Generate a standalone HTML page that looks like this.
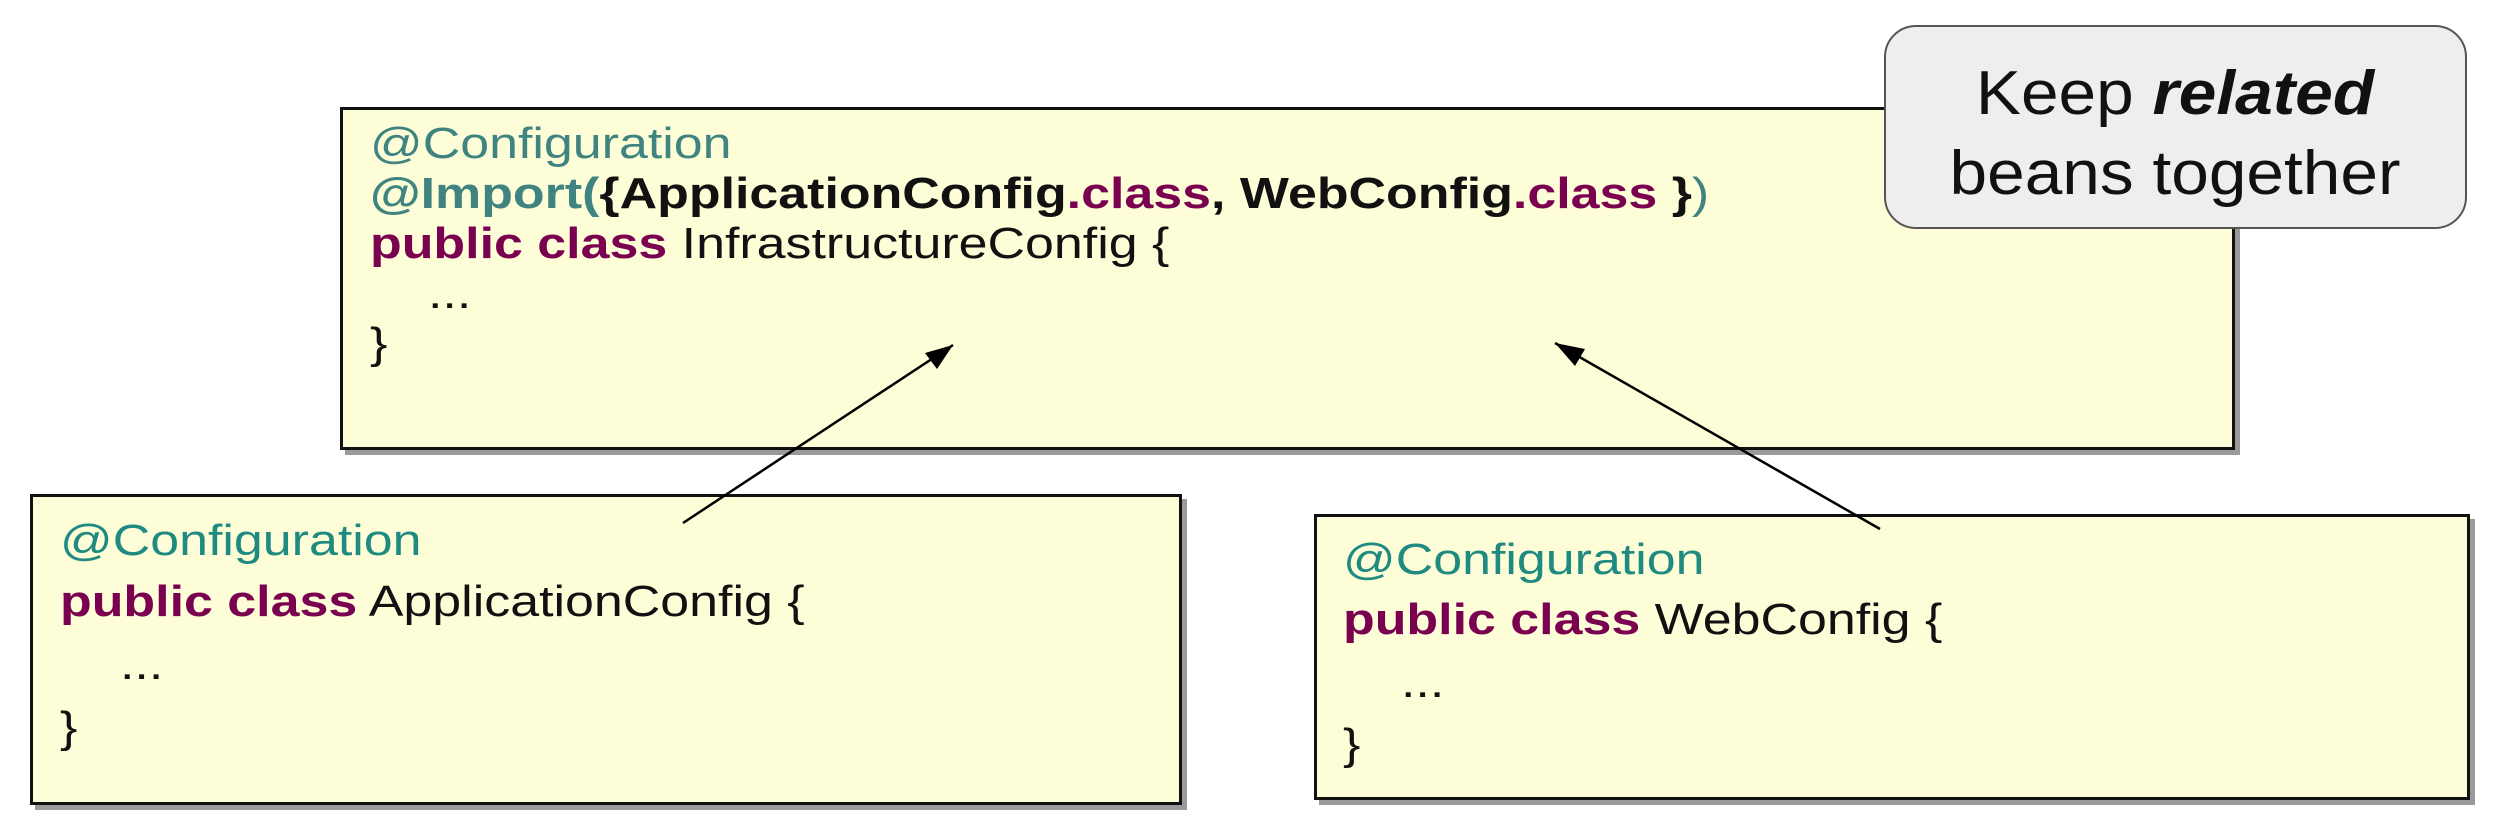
<!DOCTYPE html>
<html><head><meta charset="utf-8"><style>
body{margin:0;width:2494px;height:826px;background:#fff;position:relative;overflow:hidden;font-family:"Liberation Sans",Arial,sans-serif}
.box{position:absolute;background:#fdfdd8;border:3px solid #111;box-shadow:5px 5px 0 #9a9a9a;box-sizing:border-box}
.l{position:absolute;font-size:44px;line-height:44px;white-space:pre;transform:scaleX(1.18);transform-origin:0 0;color:#111}
.t{color:#3f8480}.t2{color:#1f8a80}.p{color:#7a0050;font-weight:bold}.b{font-weight:bold}
.call{position:absolute;left:1884px;top:25px;width:583px;height:204px;background:#eeeeee;border:2px solid #555;border-radius:32px;box-sizing:border-box}
.c{position:absolute;font-size:62px;line-height:62px;white-space:pre;color:#111;transform:scaleX(1.09);transform-origin:50% 0;width:600px;text-align:center;left:1875px}
</style></head><body>
<div class="box" style="left:340px;top:107px;width:1895px;height:343px"></div>
<div class="box" style="left:30px;top:494px;width:1152px;height:311px"></div>
<div class="box" style="left:1314px;top:514px;width:1156px;height:286px"></div>

<div class="l t" style="left:370px;top:122px">@Configuration</div>
<div class="l" style="left:370px;top:172px"><span class="t b">@Import(</span><span class="b">{ApplicationConfig</span><span class="p">.class</span><span class="b">, WebConfig</span><span class="p">.class</span><span class="b"> }</span><span class="t">)</span></div>
<div class="l" style="left:370px;top:222px"><span class="p">public class</span> InfrastructureConfig {</div>
<div class="l" style="left:428px;top:272px">...</div>
<div class="l" style="left:370px;top:322px">}</div>

<div class="l t2" style="left:60px;top:519px">@Configuration</div>
<div class="l" style="left:60px;top:580px"><span class="p">public class</span> ApplicationConfig {</div>
<div class="l" style="left:120px;top:643px">...</div>
<div class="l" style="left:60px;top:706px">}</div>

<div class="l t2" style="left:1343px;top:538px">@Configuration</div>
<div class="l" style="left:1343px;top:598px"><span class="p">public class</span> WebConfig {</div>
<div class="l" style="left:1401px;top:661px">...</div>
<div class="l" style="left:1343px;top:723px">}</div>

<svg width="2494" height="826" style="position:absolute;left:0;top:0">
<defs><marker id="a" markerWidth="12" markerHeight="10" refX="11" refY="5" orient="auto" markerUnits="userSpaceOnUse" viewBox="0 0 12 10"><path d="M0,0 L12,5 L0,10 z" fill="#000"/></marker></defs>
<g stroke="#000" stroke-width="2.5" fill="none">
<line x1="683" y1="523" x2="953" y2="345"/>
<line x1="1880" y1="529" x2="1555" y2="343"/>
</g>
<path d="M953,345 L925,353 L937,369 z" fill="#000"/>
<path d="M1555,343 L1575,366 L1585,349 z" fill="#000"/>
</svg>

<div class="call"></div>
<div class="c" style="top:63px">Keep <b><i>related</i></b></div>
<div class="c" style="top:143px">beans together</div>
</body></html>
